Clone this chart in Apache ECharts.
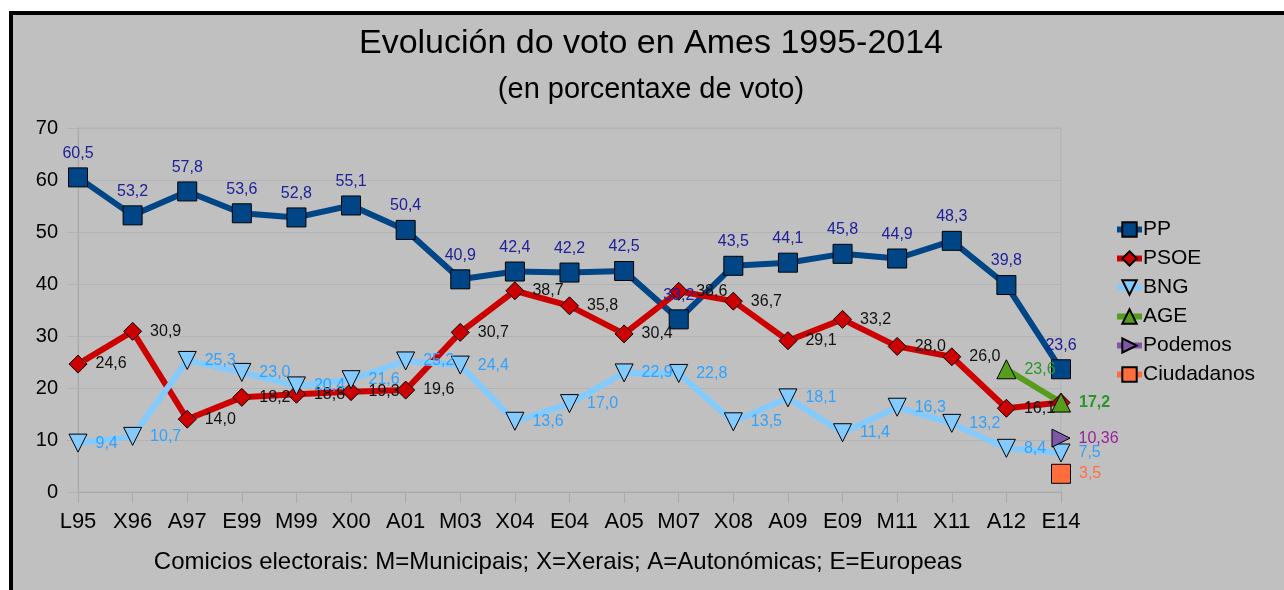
<!DOCTYPE html>
<html>
<head>
<meta charset="utf-8">
<script src="https://cdn.jsdelivr.net/npm/echarts@6/dist/echarts.min.js"></script>
<style>
  html, body { margin: 0; padding: 0; background: #fff; }
  #frame {
    position: absolute; left: 9px; top: 11px; width: 1275px; height: 579px;
    border-left: 4px solid #000; border-top: 4px solid #000; background: #c0c0c0;
    box-sizing: border-box;
  }
  #chart { position: absolute; left: 0; top: 0; width: 1284px; height: 590px; }
</style>
</head>
<body>
<div id="frame"></div>
<div id="chart"></div>
<script>
const categories = ['L95', 'X96', 'A97', 'E99', 'M99', 'X00', 'A01', 'M03', 'X04', 'E04', 'A05', 'M07', 'X08', 'A09', 'E09', 'M11', 'X11', 'A12', 'E14']
const ppData = [60.5, 53.2, 57.8, 53.6, 52.8, 55.1, 50.4, 40.9, 42.4, 42.2, 42.5, 33.2, 43.5, 44.1, 45.8, 44.9, 48.3, 39.8, 23.6]
const psoeData = [24.6, 30.9, 14.0, 18.2, 18.8, 19.3, 19.6, 30.7, 38.7, 35.8, 30.4, 38.6, 36.7, 29.1, 33.2, 28.0, 26.0, 16.1, 17.2]
const bngData = [9.4, 10.7, 25.3, 23.0, 20.4, 21.6, 25.2, 24.4, 13.6, 17.0, 22.9, 22.8, 13.5, 18.1, 11.4, 16.3, 13.2, 8.4, 7.5]
const ageData = [null, null, null, null, null, null, null, null, null, null, null, null, null, null, null, null, null, 23.6, 17.2]
const podemosData = [null, null, null, null, null, null, null, null, null, null, null, null, null, null, null, null, null, null, 10.36]
const ciudadanosData = [null, null, null, null, null, null, null, null, null, null, null, null, null, null, null, null, null, null, 3.5]

const FONT = "'Liberation Sans', Arial, sans-serif"

// 24.6 -> "24,6", 10.36 -> "10,36"
function fmt(p) {
  const v = p.value
  const s = v % 1 === 0 ? v.toFixed(1) : String(v)
  return s.replace('.', ',')
}

function lineSeries(name, data, color, symbol, size, labelColor, labelPos, extra) {
  return Object.assign({
    name: name,
    type: 'line',
    data: data,
    symbol: symbol,
    symbolSize: size,
    showAllSymbol: true,
    connectNulls: false,
    lineStyle: { color: color, width: 6 },
    itemStyle: { color: color, borderColor: '#000', borderWidth: 1 },
    label: {
      show: true,
      position: labelPos,
      distance: labelPos === 'top' ? 6 : 8,
      formatter: fmt,
      color: labelColor,
      fontSize: 16,
      fontFamily: FONT
    },
    emphasis: { disabled: true },
    animation: false
  }, extra || {})
}

const chart = echarts.init(document.getElementById('chart'))

// PSOE label at E14 sits under the AGE one
const psoeItems = psoeData.map((v, i) => i === psoeData.length - 1 ? { value: v, label: { show: false } } : v)
const ageItems = ageData.map((v, i) => i === ageData.length - 1 ? { value: v, label: { fontWeight: 'bold' } } : v)

const option = {
  backgroundColor: 'transparent',
  textStyle: { fontFamily: FONT },
  graphic: [
    { type: 'text', x: 651, y: 44, style: { text: 'Evolución do voto en Ames 1995-2014', fill: '#000', font: '34px ' + FONT, textAlign: 'center', textVerticalAlign: 'middle' } },
    { type: 'text', x: 651, y: 90, style: { text: '(en porcentaxe de voto)', fill: '#000', font: '29px ' + FONT, textAlign: 'center', textVerticalAlign: 'middle' } },
    { type: 'text', x: 558, y: 562, style: { text: 'Comicios electorais: M=Municipais; X=Xerais; A=Autonómicas; E=Europeas', fill: '#000', font: '24px ' + FONT, textAlign: 'center', textVerticalAlign: 'middle' } }
  ],
  legend: {
    orient: 'vertical',
    left: 1114,
    top: 219,
    padding: 0,
    itemWidth: 25,
    itemHeight: 18,
    itemGap: 8,
    lineStyle: { width: 6 },
    textStyle: { fontSize: 21, color: '#000', fontFamily: FONT, padding: [0, 0, 0, -4] },
    data: ['PP', 'PSOE', 'BNG', 'AGE', 'Podemos', 'Ciudadanos']
  },
  grid: {
    left: 78, right: 223, top: 128, bottom: 98,
    show: true, borderColor: '#b3b3b3', borderWidth: 1, backgroundColor: 'transparent'
  },
  xAxis: {
    type: 'category',
    data: categories,
    boundaryGap: false,
    axisLine: { lineStyle: { color: '#a9a9a9', width: 1 } },
    axisTick: { show: true, length: 11, interval: 0, lineStyle: { color: '#a9a9a9' } },
    axisLabel: { color: '#000', fontSize: 22, margin: 19, interval: 0, fontFamily: FONT },
    splitLine: { show: false }
  },
  yAxis: {
    type: 'value',
    min: 0, max: 70, interval: 10,
    axisLine: { show: true, lineStyle: { color: '#a9a9a9', width: 1 } },
    axisTick: { show: true, length: 11, lineStyle: { color: '#b3b3b3' } },
    axisLabel: { color: '#000', fontSize: 20, margin: 20, fontFamily: FONT },
    splitLine: { show: true, lineStyle: { color: '#b3b3b3', width: 1 } }
  },
  series: [
    lineSeries('PP', ppData, '#004586', 'rect', 19, '#20209a', 'top'),
    lineSeries('PSOE', psoeItems, '#cc0000', 'diamond', 18, '#111', 'right'),
    lineSeries('BNG', bngData, '#83caff', 'triangle', 18, '#2fa2ff', 'right', { symbolRotate: 180 }),
    lineSeries('AGE', ageItems, '#579d1c', 'triangle', 19, '#2a962a', 'right'),
    lineSeries('Podemos', podemosData, '#7e57a8', 'triangle', 18, '#99219c', 'right', { symbolRotate: -90 }),
    lineSeries('Ciudadanos', ciudadanosData, '#ff6d3d', 'rect', 19, '#ff7045', 'right')
  ]
}

chart.setOption(option)
</script>
</body>
</html>
